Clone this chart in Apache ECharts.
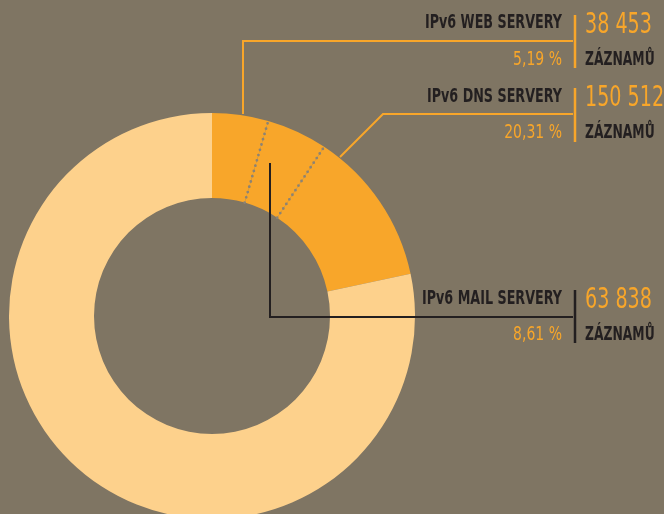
<!DOCTYPE html>
<html>

<head>
    <meta charset="UTF-8">
    <title>IPv6 servery</title>
    <script src="https://cdn.jsdelivr.net/npm/echarts@6.0.0/dist/echarts.min.js"></script>
    <style>
        html, body { margin: 0; padding: 0; background: #7f7563; }
    </style>
</head>

<body>
    <div id="main" style="width: 664px; height: 514px;"></div>
    <script>
        // podíly výsečí (v %)
        const sliceNames = ['web', 'mail', 'dns', 'ostatni'];
        const sliceShares = [4.47, 4.85, 12.35, 78.33];

        // popisky vpravo
        const labelNames = ['IPv6 WEB SERVERY', 'IPv6 DNS SERVERY', 'IPv6 MAIL SERVERY'];
        const labelCounts = ['38 453', '150 512', '63 838'];
        const labelPercents = ['5,19 %', '20,31 %', '8,61 %'];
        const unitText = 'ZÁZNAMŮ';

        const bg = '#7f7563';
        const orange = '#f8a62a';
        const light = '#fdd18c';
        const dark = '#231f20';
        const font = '"DejaVu Sans", sans-serif';

        const cx = 212, cy = 316, rIn = 118, rOut = 203;

        const chart = echarts.init(document.getElementById('main'));

        // tečkované hranice mezi oranžovými výsečemi
        const total = sliceShares.reduce((a, b) => a + b, 0);
        const dotted = [];
        let acc = 0;
        for (let i = 0; i < 2; i++) {
            acc += sliceShares[i];
            const a = acc / total * Math.PI * 2;
            dotted.push({
                type: 'line',
                z: 50,
                silent: true,
                shape: {
                    x1: cx + rIn * Math.sin(a), y1: cy - rIn * Math.cos(a),
                    x2: cx + rOut * Math.sin(a), y2: cy - rOut * Math.cos(a)
                },
                style: { stroke: '#8c8374', lineWidth: 2.8, lineDash: [0, 5.5], lineCap: 'round' }
            });
        }

        // řádky popisků: y středu jména, čísla a spodního řádku, barva čar
        const rows = [
            { yName: 23, yNum: 25, yBot: 60, sep: [15, 68], color: orange },
            { yName: 97, yNum: 98, yBot: 133, sep: [88, 142], color: orange },
            { yName: 299, yNum: 300, yBot: 335, sep: [290, 343], color: dark }
        ];
        const leaders = [
            [[243, 114], [243, 41], [573, 41]],
            [[340, 157], [383, 114], [573, 114]],
            [[270, 163], [270, 317], [573, 317]]
        ];

        // zúžené písmo (condensed) pomocí scaleX
        function label(x, y, text, color, align, f, sx) {
            return {
                type: 'text', z: 60, x: x, y: y, scaleX: sx, silent: true,
                style: { text: text, fill: color, align: align, verticalAlign: 'middle', font: f }
            };
        }

        const texts = [];
        rows.forEach((r, i) => {
            texts.push(
                {
                    type: 'polyline', z: 60, silent: true,
                    shape: { points: leaders[i] },
                    style: { stroke: r.color, lineWidth: 2, fill: null }
                },
                {
                    type: 'line', z: 60, silent: true,
                    shape: { x1: 575, y1: r.sep[0], x2: 575, y2: r.sep[1] },
                    style: { stroke: r.color, lineWidth: 2.5 }
                },
                label(562, r.yName, labelNames[i], dark, 'right', 'bold 19px ' + font, 0.67),
                label(585, r.yNum, labelCounts[i], orange, 'left', '29px ' + font, 0.66),
                label(562, r.yBot, labelPercents[i], orange, 'right', '20px ' + font, 0.7),
                label(585, r.yBot, unitText, dark, 'left', 'bold 19px ' + font, 0.65)
            );
        });

        const option = {
            backgroundColor: bg,
            animation: false,
            series: [
                {
                    type: 'pie',
                    center: [cx, cy],
                    radius: [rIn, rOut],
                    startAngle: 90,
                    clockwise: true,
                    silent: true,
                    label: { show: false },
                    labelLine: { show: false },
                    emphasis: { disabled: true },
                    itemStyle: { borderWidth: 0 },
                    data: sliceNames.map((n, i) => ({
                        name: n,
                        value: sliceShares[i],
                        itemStyle: { color: i < 3 ? orange : light }
                    }))
                }
            ],
            graphic: dotted.concat(texts)
        };

        chart.setOption(option);
    </script>
</body>

</html>
